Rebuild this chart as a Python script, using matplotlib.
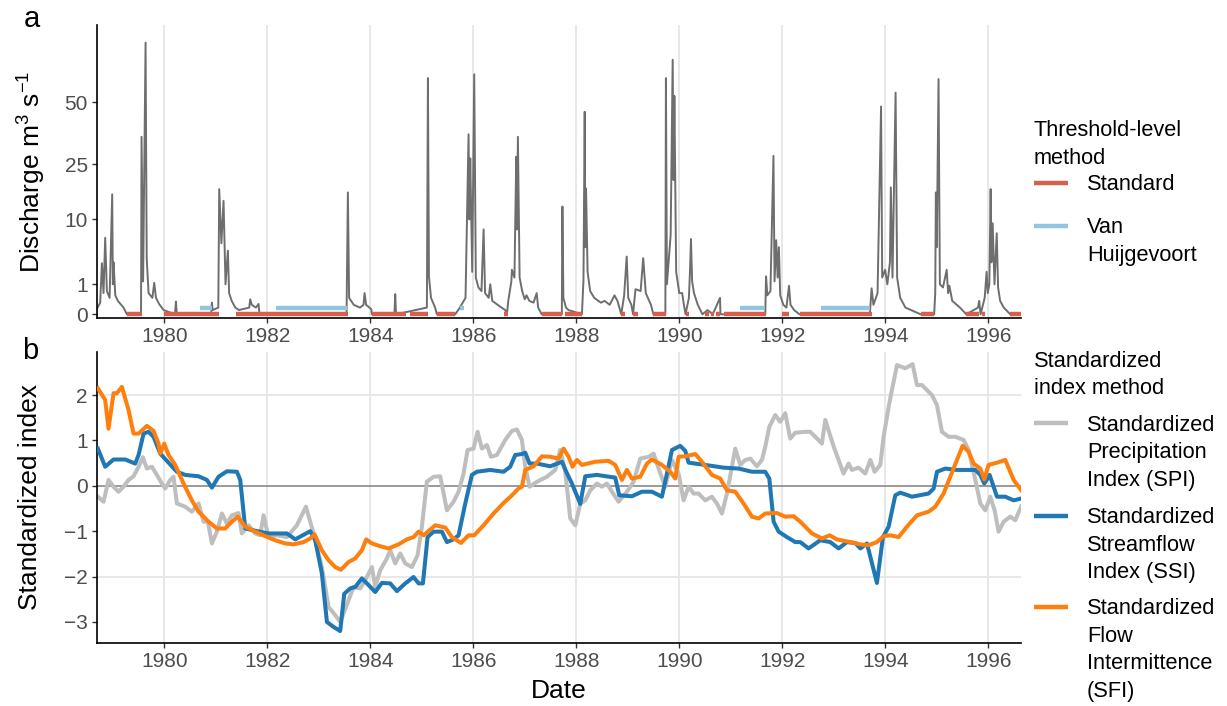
import matplotlib
matplotlib.use("Agg")
import matplotlib.pyplot as plt
import numpy as np
from matplotlib.lines import Line2D

plt.rcParams['font.family'] = ['Liberation Sans', 'DejaVu Sans']
plt.rcParams['mathtext.fontset'] = 'custom'
plt.rcParams['mathtext.rm'] = 'Liberation Sans'
plt.rcParams['mathtext.it'] = 'Liberation Sans:italic'

# ---- data (dates as decimal years) ----
q_time = [1978.69, 1978.757, 1978.790, 1978.822, 1978.854, 1978.887, 1978.94, 1978.990, 1979.003, 1979.016,
          1979.05, 1979.10, 1979.15, 1979.210, 1979.275, 1979.55, 1979.560, 1979.59, 1979.638, 1979.66,
          1979.696, 1979.77, 1979.806, 1979.84, 1979.90, 1979.987, 1980.21, 1980.227, 1980.245, 1980.91,
          1980.926, 1980.94, 1981.05, 1981.068, 1981.11, 1981.152, 1981.19, 1981.236, 1981.26, 1981.31,
          1981.38, 1981.45, 1981.65, 1981.670, 1981.70, 1981.78, 1981.832, 1981.85, 1983.54, 1983.566,
          1983.59, 1983.68, 1983.80, 1983.87, 1983.890, 1983.92, 1984.02, 1984.032, 1984.47, 1984.485,
          1984.50, 1985.10, 1985.120, 1985.14, 1985.18, 1985.26, 1985.294, 1985.650, 1985.74, 1985.85,
          1985.909, 1985.925, 1985.942, 1985.98, 1986.019, 1986.05, 1986.10, 1986.16, 1986.201, 1986.23,
          1986.30, 1986.330, 1986.37, 1986.50, 1986.62, 1986.654, 1986.68, 1986.74, 1986.751, 1986.80,
          1986.835, 1986.85, 1986.867, 1986.90, 1986.95, 1987.00, 1987.034, 1987.09, 1987.17, 1987.232,
          1987.26, 1987.330, 1987.72, 1987.731, 1987.75, 1987.80, 1987.85, 1988.11, 1988.14, 1988.164,
          1988.177, 1988.190, 1988.22, 1988.27, 1988.35, 1988.479, 1988.55, 1988.65, 1988.742, 1988.80,
          1988.874, 1988.93, 1988.979, 1989.01, 1989.07, 1989.103, 1989.15, 1989.25, 1989.300, 1989.35,
          1989.45, 1989.498, 1989.73, 1989.741, 1989.76, 1989.833, 1989.872, 1989.89, 1989.905, 1989.94,
          1990.00, 1990.056, 1990.09, 1990.122, 1990.187, 1990.21, 1990.227, 1990.25, 1990.286, 1990.36,
          1990.45, 1990.55, 1990.65, 1990.791, 1990.80, 1991.67, 1991.685, 1991.71, 1991.77, 1991.829,
          1991.85, 1991.882, 1991.91, 1991.934, 1991.96, 1992.02, 1992.08, 1992.131, 1992.16, 1992.23,
          1992.335, 1993.70, 1993.734, 1993.77, 1993.85, 1993.918, 1993.94, 1993.997, 1994.04, 1994.09,
          1994.108, 1994.14, 1994.200, 1994.23, 1994.29, 1994.391, 1994.50, 1994.686, 1994.949, 1994.97,
          1994.982, 1995.00, 1995.034, 1995.06, 1995.12, 1995.192, 1995.22, 1995.245, 1995.30, 1995.45,
          1995.573, 1995.80, 1995.823, 1995.85, 1995.93, 1995.967, 1995.99, 1996.02, 1996.046, 1996.06,
          1996.085, 1996.12, 1996.164, 1996.19, 1996.230, 1996.30, 1996.427, 1996.65]
q_value = [0.03, 0.15, 2.9, 0.5, 6.5, 0.6, 0.3, 16, 1.0, 3.0,
           0.4, 0.2, 0.12, 0.05, 0.0, 0.0, 35, 1.2, 82, 3.5,
           0.5, 0.3, 1.1, 0.3, 0.12, 0.02, 0.0, 0.18, 0.0, 0.0,
           0.15, 0.02, 0.05, 17.4, 5.6, 14.3, 1.0, 4.5, 0.5, 0.2,
           0.05, 0.02, 0.05, 0.25, 0.1, 0.05, 0.12, 0.0, 0.0, 16.5,
           0.3, 0.1, 0.05, 0.1, 0.5, 0.1, 0.03, 0.0, 0.0, 0.45,
           0.0, 0.05, 62, 1.6, 0.3, 0.05, 0.0, 0.0, 0.05, 0.3,
           36, 10, 27, 2, 64, 1.5, 0.8, 0.6, 8, 0.5,
           0.3, 1.0, 0.2, 0.08, 0.02, 0.0, 0.2, 1.2, 2.2, 1.5,
           27.6, 8, 35, 1.5, 0.6, 0.25, 0.4, 0.2, 0.15, 0.5,
           0.05, 0.0, 0.0, 12.9, 0.3, 0.05, 0.02, 0.0, 1.3, 45.6,
           5, 17.6, 2, 0.6, 0.3, 0.15, 0.2, 0.1, 0.4, 0.2,
           0.0, 0.4, 3.7, 0.3, 0.1, 0.0, 0.7, 0.6, 3.5, 0.5,
           0.1, 0.0, 0.0, 62, 1.0, 7, 72, 20, 53, 2,
           0.5, 0.5, 0.1, 0.0, 0.3, 2.3, 6.3, 1.2, 0.5, 0.1,
           0.0, 0.02, 0.0, 0.3, 0.0, 0.0, 1.6, 0.4, 0.6, 27.9,
           1.2, 6.1, 1.5, 5, 0.4, 0.1, 0.05, 0.9, 0.1, 0.02,
           0.0, 0.0, 0.75, 0.1, 0.5, 48, 1.5, 2.2, 1.0, 3,
           17.9, 1.5, 54.6, 1.5, 0.3, 0.05, 0.02, 0.0, 0.0, 0.5,
           16.5, 5, 61.5, 1.0, 0.8, 2.2, 0.5, 0.9, 0.2, 0.05,
           0.0, 0.05, 0.2, 0.0, 0.3, 2.0, 0.5, 1.0, 17.4, 3,
           9.2, 1.0, 7.3, 0.8, 0.2, 0.05, 0.0, 0.0]

# drought periods (start, end) per threshold-level method
standard_start = [1979.275, 1979.987, 1981.40, 1984.032, 1984.777, 1985.294, 1986.60, 1987.330, 1987.790,
                  1988.874, 1989.103, 1989.498, 1990.122, 1990.50, 1990.62, 1990.72, 1990.877, 1991.993,
                  1992.335, 1994.686, 1995.573, 1995.88, 1996.427]
standard_end = [1979.566, 1981.068, 1983.566, 1984.699, 1985.120, 1985.650, 1986.67, 1987.724, 1988.118,
                1988.939, 1989.202, 1989.741, 1990.187, 1990.58, 1990.68, 1990.79, 1991.685, 1992.131,
                1993.734, 1994.949, 1995.823, 1995.93, 1996.65]
vanh_start = [1980.699, 1982.175, 1985.735, 1991.186, 1992.749]
vanh_end = [1980.926, 1983.547, 1985.812, 1991.665, 1993.701]
standard_level = 0.0
vanh_level = 0.04

spi_time = [1978.712, 1978.822, 1978.919, 1979.016, 1979.113, 1979.210, 1979.307, 1979.405, 1979.502, 1979.586,
            1979.663, 1979.760, 1979.858, 1979.955, 1980.019, 1980.117, 1980.181, 1980.246, 1980.408, 1980.537,
            1980.667, 1980.764, 1980.848, 1980.926, 1981.023, 1981.120, 1981.217, 1981.314, 1981.443, 1981.508,
            1981.638, 1981.767, 1981.864, 1981.929, 1982.026, 1982.188, 1982.382, 1982.576, 1982.751, 1982.900,
            1983.061, 1983.191, 1983.32, 1983.42, 1983.676, 1983.806, 1983.903, 1984.032, 1984.097, 1984.194,
            1984.323, 1984.388, 1984.485, 1984.582, 1984.680, 1984.809, 1984.919, 1985.003, 1985.100, 1985.230,
            1985.359, 1985.489, 1985.618, 1985.715, 1985.812, 1985.890, 1986.006, 1986.084, 1986.168, 1986.265,
            1986.343, 1986.460, 1986.621, 1986.751, 1986.848, 1986.945, 1987.010, 1987.094, 1987.237, 1987.431,
            1987.592, 1987.689, 1987.787, 1987.884, 1987.981, 1988.078, 1988.175, 1988.272, 1988.401, 1988.498,
            1988.595, 1988.692, 1988.822, 1988.984, 1989.113, 1989.243, 1989.405, 1989.502, 1989.599, 1989.728,
            1989.858, 1989.987, 1990.084, 1990.181, 1990.278, 1990.375, 1990.505, 1990.634, 1990.731, 1990.828,
            1990.926, 1991.087, 1991.184, 1991.281, 1991.379, 1991.508, 1991.605, 1991.670, 1991.748, 1991.864,
            1991.961, 1992.058, 1992.155, 1992.253, 1992.447, 1992.544, 1992.641, 1992.770, 1992.835, 1993.000,
            1993.189, 1993.288, 1993.353, 1993.482, 1993.612, 1993.709, 1993.793, 1993.903, 1993.967, 1994.078,
            1994.227, 1994.388, 1994.531, 1994.615, 1994.712, 1994.809, 1994.906, 1995.003, 1995.100, 1995.230,
            1995.359, 1995.521, 1995.618, 1995.748, 1995.845, 1995.942, 1996.039, 1996.123, 1996.200, 1996.298,
            1996.427, 1996.524, 1996.64]
spi_value = [-0.24, -0.35, 0.13, -0.02, -0.13, -0.02, 0.13, 0.21, 0.42, 0.63,
             0.38, 0.42, 0.24, 0.05, -0.06, 0.13, 0.20, -0.39, -0.46, -0.57,
             -0.39, -0.79, -0.79, -1.27, -1.01, -0.61, -0.83, -0.65, -0.60, -1.05,
             -0.87, -1.05, -1.09, -0.65, -1.13, -1.09, -1.13, -0.87, -0.46, -1.05,
             -1.79, -2.67, -2.85, -3.0, -2.23, -2.26, -2.08, -1.79, -2.23, -1.86,
             -1.60, -1.42, -1.71, -1.49, -1.71, -1.79, -1.53, -0.90, 0.09, 0.20,
             0.21, -0.54, -0.35, -0.13, 0.27, 0.79, 0.82, 1.19, 0.82, 0.90,
             0.64, 0.68, 1.01, 1.21, 1.24, 1.01, 0.42, -0.02, 0.09, 0.20,
             0.35, 0.79, 0.31, -0.72, -0.87, -0.39, -0.32, -0.10, 0.05, -0.02,
             0.05, -0.13, -0.35, -0.13, 0.09, 0.60, 0.64, 0.71, 0.38, -0.02,
             0.57, 0.27, -0.32, -0.02, -0.17, -0.17, -0.32, -0.24, -0.39, -0.61,
             -0.17, 0.82, 0.46, 0.57, 0.60, 0.43, 0.57, 0.86, 1.30, 1.56,
             1.41, 1.60, 1.04, 1.17, 1.19, 1.19, 1.08, 0.93, 1.45, 0.86,
             0.27, 0.49, 0.35, 0.40, 0.27, 0.57, 0.31, 0.46, 1.08, 1.82,
             2.66, 2.59, 2.68, 2.22, 2.22, 2.11, 2.00, 1.78, 1.19, 1.08,
             1.08, 1.01, 0.79, 0.13, -0.39, -0.54, -0.24, -0.54, -1.01, -0.79,
             -0.68, -0.76, -0.45]

ssi_time = [1978.712, 1978.854, 1979.016, 1979.243, 1979.437, 1979.502, 1979.599, 1979.696, 1979.793, 1979.922,
            1980.084, 1980.246, 1980.408, 1980.667, 1980.828, 1980.926, 1981.055, 1981.217, 1981.411, 1981.476,
            1981.573, 1981.767, 1982.026, 1982.220, 1982.382, 1982.544, 1982.835, 1982.932, 1983.061, 1983.159,
            1983.288, 1983.417, 1983.495, 1983.611, 1983.708, 1983.838, 1983.935, 1984.097, 1984.226, 1984.388,
            1984.518, 1984.680, 1984.841, 1984.939, 1985.023, 1985.113, 1985.230, 1985.392, 1985.489, 1985.618,
            1985.715, 1985.845, 1985.974, 1986.071, 1986.330, 1986.589, 1986.718, 1986.816, 1986.945, 1987.010,
            1987.094, 1987.237, 1987.495, 1987.722, 1987.810, 1987.916, 1988.078, 1988.175, 1988.401, 1988.757,
            1988.835, 1989.081, 1989.275, 1989.469, 1989.663, 1989.761, 1989.858, 1990.019, 1990.117, 1990.181,
            1990.505, 1990.861, 1991.152, 1991.411, 1991.670, 1991.748, 1991.832, 1991.929, 1992.091, 1992.253,
            1992.350, 1992.511, 1992.738, 1992.932, 1993.094, 1993.256, 1993.417, 1993.515, 1993.644, 1993.838,
            1993.955, 1994.065, 1994.194, 1994.291, 1994.518, 1994.841, 1994.939, 1995.004, 1995.165, 1995.392,
            1995.748, 1995.845, 1995.922, 1996.026, 1996.168, 1996.330, 1996.492, 1996.64]
ssi_value = [0.82, 0.42, 0.58, 0.58, 0.49, 0.68, 1.15, 1.19, 1.08, 0.71,
             0.51, 0.31, 0.24, 0.21, 0.13, -0.04, 0.20, 0.32, 0.31, 0.13,
             -0.94, -0.99, -1.05, -1.05, -1.05, -1.18, -1.00, -1.20, -1.93, -3.00,
             -3.11, -3.20, -2.38, -2.26, -2.23, -2.04, -2.15, -2.34, -2.14, -2.15,
             -2.32, -2.15, -2.01, -2.15, -2.15, -1.13, -1.01, -1.01, -1.24, -1.18,
             -1.09, -0.39, 0.24, 0.31, 0.35, 0.31, 0.42, 0.68, 0.70, 0.73,
             0.49, 0.49, 0.43, 0.53, 0.30, 0.05, -0.40, 0.21, 0.24, 0.18,
             -0.21, -0.23, -0.13, -0.13, -0.24, 0.27, 0.79, 0.88, 0.77, 0.51,
             0.46, 0.40, 0.38, 0.31, 0.31, 0.16, -0.79, -1.01, -1.13, -1.24,
             -1.24, -1.38, -1.20, -1.24, -1.38, -1.24, -1.26, -1.38, -1.27, -2.14,
             -1.13, -0.90, -0.21, -0.15, -0.24, -0.17, -0.06, 0.31, 0.38, 0.35,
             0.35, 0.24, 0.05, 0.24, -0.24, -0.24, -0.32, -0.28]

sfi_time = [1978.712, 1978.854, 1978.919, 1979.016, 1979.081, 1979.178, 1979.307, 1979.405, 1979.502, 1979.663,
            1979.793, 1979.890, 1979.922, 1980.000, 1980.084, 1980.214, 1980.375, 1980.537, 1980.667, 1980.861,
            1981.023, 1981.184, 1981.314, 1981.430, 1981.573, 1981.767, 1981.961, 1982.155, 1982.349, 1982.511,
            1982.706, 1982.835, 1982.919, 1983.061, 1983.191, 1983.320, 1983.430, 1983.579, 1983.708, 1983.838,
            1983.922, 1984.032, 1984.194, 1984.356, 1984.550, 1984.712, 1984.841, 1984.939, 1985.036, 1985.262,
            1985.456, 1985.586, 1985.761, 1985.909, 1986.019, 1986.200, 1986.395, 1986.589, 1986.751, 1986.880,
            1986.945, 1987.010, 1987.172, 1987.333, 1987.495, 1987.657, 1987.754, 1987.851, 1987.929, 1988.013,
            1988.110, 1988.369, 1988.628, 1988.757, 1988.887, 1988.984, 1989.081, 1989.243, 1989.372, 1989.469,
            1989.663, 1989.825, 1989.922, 1989.987, 1990.117, 1990.311, 1990.440, 1990.634, 1990.796, 1990.926,
            1991.087, 1991.249, 1991.411, 1991.540, 1991.670, 1991.896, 1992.058, 1992.220, 1992.349, 1992.576,
            1992.770, 1992.919, 1993.061, 1993.320, 1993.515, 1993.676, 1993.838, 1993.967, 1994.097, 1994.259,
            1994.421, 1994.615, 1994.841, 1994.971, 1995.133, 1995.262, 1995.392, 1995.502, 1995.618, 1995.715,
            1995.845, 1995.922, 1996.006, 1996.168, 1996.330, 1996.492, 1996.64]
sfi_value = [2.15, 1.89, 1.26, 2.04, 2.04, 2.18, 1.67, 1.15, 1.15, 1.32,
             1.21, 0.93, 0.71, 0.93, 0.68, 0.46, 0.05, -0.32, -0.57, -0.79,
             -0.94, -0.94, -0.79, -0.68, -0.90, -1.01, -1.11, -1.20, -1.27, -1.29,
             -1.24, -1.16, -1.07, -1.42, -1.64, -1.79, -1.85, -1.68, -1.60, -1.42,
             -1.18, -1.27, -1.33, -1.38, -1.29, -1.18, -1.13, -1.01, -1.09, -0.87,
             -0.92, -1.13, -1.26, -1.09, -1.09, -0.87, -0.61, -0.38, -0.21, -0.06,
             -0.02, 0.35, 0.43, 0.65, 0.64, 0.60, 0.82, 0.64, 0.42, 0.57,
             0.46, 0.53, 0.55, 0.46, 0.13, 0.35, 0.16, 0.20, 0.49, 0.58,
             0.46, 0.31, 0.16, 0.64, 0.65, 0.70, 0.53, 0.24, 0.16, -0.10,
             -0.13, -0.39, -0.68, -0.72, -0.61, -0.60, -0.68, -0.67, -0.79, -1.05,
             -1.16, -1.09, -1.18, -1.24, -1.29, -1.31, -1.24, -1.11, -1.09, -1.13,
             -0.90, -0.65, -0.57, -0.46, -0.17, 0.20, 0.57, 0.88, 0.75, 0.49,
             0.38, 0.14, 0.46, 0.51, 0.57, 0.13, -0.10]

year_ticks = [1980, 1982, 1984, 1986, 1988, 1990, 1992, 1994, 1996]
q_ticks = [0, 1, 10, 25, 50]
si_ticks = [-3, -2, -1, 0, 1, 2]

thr_labels = ["Standard", "Van\nHuijgevoort"]
thr_colors = ["#D6604D", "#92C5DE"]
si_labels = ["Standardized\nPrecipitation\nIndex (SPI)", "Standardized\nStreamflow\nIndex (SSI)",
             "Standardized\nFlow\nIntermittence\n(SFI)"]
si_colors = ["#BEBEBE", "#1F77B4", "#FF7F0E"]

# ---- figure ----
W, H = 1227, 706
fig = plt.figure(figsize=(W / 100, H / 100), dpi=100)


def px_axes(l, t, r, b):
    return fig.add_axes([l / W, 1 - b / H, (r - l) / W, (b - t) / H])


ax1 = px_axes(97, 25, 1021, 318.3)
ax2 = px_axes(97, 351.7, 1021, 643.3)

for ax in (ax1, ax2):
    ax.spines['top'].set_visible(False)
    ax.spines['right'].set_visible(False)
    for s in ('left', 'bottom'):
        ax.spines[s].set_linewidth(1.2)
        ax.spines[s].set_color('black')
    ax.tick_params(direction='out', length=3.5, width=1.0, color='#333333',
                   labelcolor='#4D4D4D', labelsize=15, pad=3)
    ax.set_xlim(1978.695, 1996.635)
    ax.set_xticks(year_ticks)
    ax.set_xticklabels([str(y) for y in year_ticks])
    for yr in year_ticks:
        ax.axvline(yr, color='#E6E6E6', lw=1.3, zorder=0)

# panel a: discharge on a square-root axis
fwd = lambda v: np.sign(v) * np.sqrt(np.abs(v))
inv = lambda v: np.sign(v) * v ** 2
ax1.set_yscale('function', functions=(fwd, inv))
ax1.plot(q_time, q_value, color='#6E6E6E', lw=1.4, zorder=2)
for s, e in zip(standard_start, standard_end):
    ax1.plot([s, e], [standard_level, standard_level], color=thr_colors[0], lw=3.2,
             solid_capstyle='butt', zorder=3)
for s, e in zip(vanh_start, vanh_end):
    ax1.plot([s, e], [vanh_level, vanh_level], color=thr_colors[1], lw=3.2,
             solid_capstyle='butt', zorder=3)
ax1.set_ylim(-0.0178, 93.0)
ax1.set_yticks(q_ticks)
ax1.set_yticklabels([str(t) for t in q_ticks])
ax1.minorticks_off()

# panel b: standardized indices
for yv in (-2, 2):
    ax2.axhline(yv, color='#E6E6E6', lw=1.3, zorder=0)
ax2.axhline(0, color='#7F7F7F', lw=1.1, zorder=1)
ax2.plot(spi_time, spi_value, color=si_colors[0], lw=2.9, zorder=2)
ax2.plot(ssi_time, ssi_value, color=si_colors[1], lw=2.9, zorder=3)
ax2.plot(sfi_time, sfi_value, color=si_colors[2], lw=2.9, zorder=4)
ax2.set_ylim(-3.47, 2.955)
ax2.set_yticks(si_ticks)
ax2.set_yticklabels([str(t).replace('-', '\u2212') for t in si_ticks])

# titles and tags
fig.text(32 / W, 1 - 172 / H, r"Discharge m$^{3}$ s$^{-1}$", rotation=90,
         ha='center', va='center', fontsize=19)
fig.text(30 / W, 1 - 497 / H, "Standardized index", rotation=90,
         ha='center', va='center', fontsize=19)
fig.text(559 / W, 1 - 691 / H, "Date", ha='center', va='center', fontsize=19)
fig.text(24 / W, 1 - 27 / H, "a", ha='left', va='baseline', fontsize=21)
fig.text(22 / W, 1 - 359 / H, "b", ha='left', va='baseline', fontsize=21)

# legends drawn by hand, ggplot style
LS = 27.5
LEG_FS = 15.7


def legend_block(title, title_base, labels, colors, key_y):
    for i, line in enumerate(title.split("\n")):
        fig.text(1034 / W, 1 - (title_base + i * LS) / H, line, ha='left',
                 va='baseline', fontsize=LEG_FS)
    for lab, col, ky in zip(labels, colors, key_y):
        fig.add_artist(Line2D([1034 / W, 1068 / W], [1 - ky / H, 1 - ky / H],
                              color=col, lw=3.2, solid_capstyle='butt'))
        for i, line in enumerate(lab.split("\n")):
            fig.text(1087 / W, 1 - (ky + 7.5 + i * LS) / H, line, ha='left',
                     va='baseline', fontsize=LEG_FS)


legend_block("Threshold-level\nmethod", 136, thr_labels, thr_colors, [183, 226])
legend_block("Standardized\nindex method", 366.7, si_labels, si_colors, [423.3, 515.7, 606.7])

fig.savefig("out.png", dpi=100)
